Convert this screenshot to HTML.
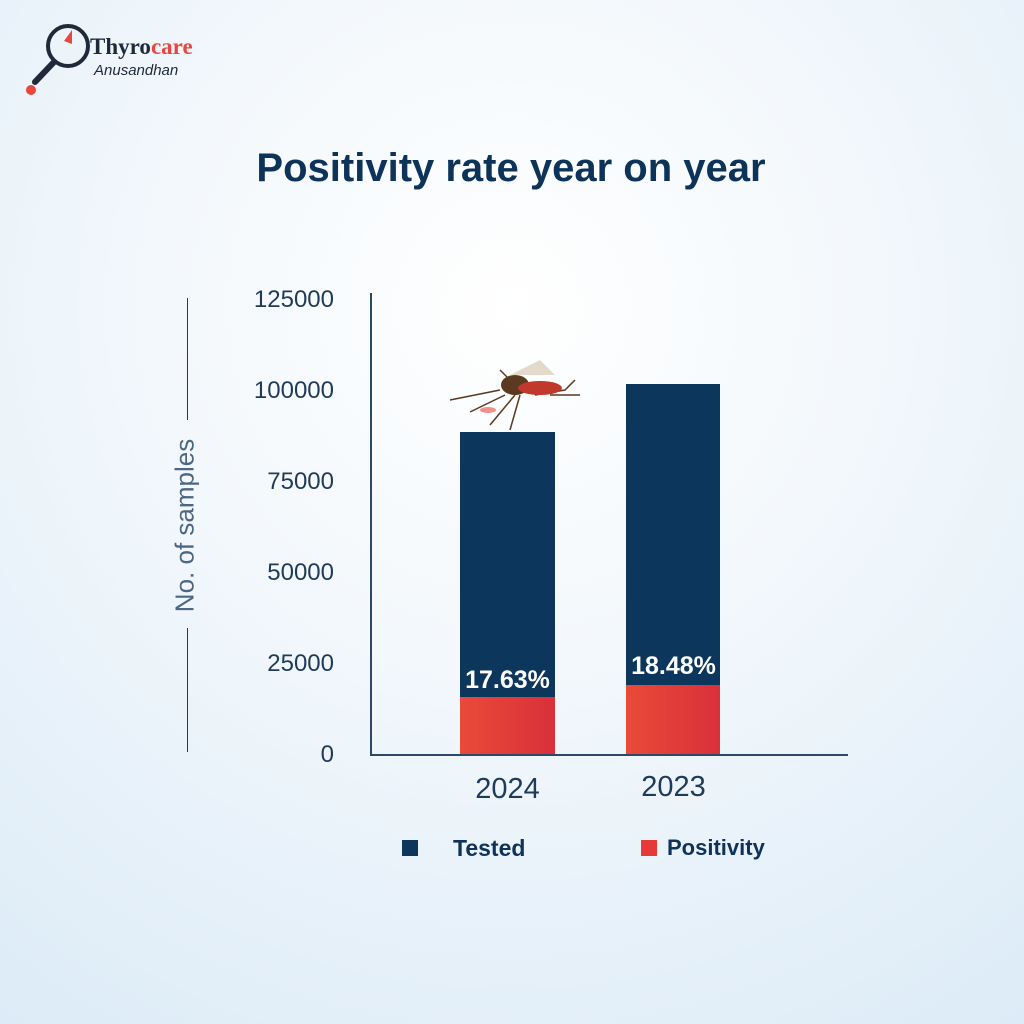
<!DOCTYPE html>
<html><head><style>
body{margin:0;width:1024px;height:1024px;position:relative;overflow:hidden;font-family:"Liberation Sans",sans-serif;
background:radial-gradient(circle at 50% 30%,#ffffff 0%,#f3f8fc 40%,#dcebf7 100%);}
.a{position:absolute}
.t{color:#0d3358}
.yl{position:absolute;right:690px;font-size:24px;color:#1f3b5a;text-align:right}
</style></head><body>
<!-- logo -->
<svg class="a" style="left:20px;top:10px" width="200" height="90">
<circle cx="48" cy="36" r="20" fill="none" stroke="#1e2a3a" stroke-width="4"/>
<line x1="34" y1="52" x2="15" y2="72" stroke="#1e2a3a" stroke-width="6" stroke-linecap="round"/>
<circle cx="11" cy="80" r="5" fill="#e8473d"/>
<path d="M52 20 L44 31 L52 34 Z" fill="#e8473d"/>
<text x="70" y="44" font-family="Liberation Serif" font-weight="bold" font-size="23" fill="#1e2a3a">Thyro<tspan fill="#e8473d">care</tspan></text>
<text x="74" y="65" font-family="Liberation Sans" font-style="italic" font-size="15" fill="#1e2a3a">Anusandhan</text>
</svg>
<div class="a t" style="left:0;width:1022px;top:146px;text-align:center;font-weight:bold;font-size:40px">Positivity rate year on year</div>
<!-- axes -->
<div class="a" style="left:370px;top:293px;width:1.5px;height:462px;background:#2b4a6a"></div>
<div class="a" style="left:370px;top:754px;width:478px;height:1.5px;background:#2b4a6a"></div>
<div class="yl" style="top:286px">125000</div>
<div class="yl" style="top:377px">100000</div>
<div class="yl" style="top:468px">75000</div>
<div class="yl" style="top:559px">50000</div>
<div class="yl" style="top:650px">25000</div>
<div class="yl" style="top:741px">0</div>
<div class="a" style="left:187px;top:298px;width:1px;height:122px;background:#1f3b5a"></div>
<div class="a" style="left:187px;top:628px;width:1px;height:124px;background:#1f3b5a"></div>
<div class="a" style="left:85px;top:510px;width:200px;text-align:center;transform:rotate(-90deg);font-size:26px;color:#4b6784">No. of samples</div>
<!-- bars -->
<div class="a" style="left:460px;top:432px;width:95px;height:265px;background:#0c365b"></div>
<div class="a" style="left:460px;top:697px;width:95px;height:57px;background:linear-gradient(90deg,#ea4a38,#d9303a)"></div>
<div class="a" style="left:626px;top:384px;width:94px;height:301px;background:#0c365b"></div>
<div class="a" style="left:626px;top:685px;width:94px;height:69px;background:linear-gradient(90deg,#ea4a38,#d9303a)"></div>
<div class="a" style="left:440px;width:135px;top:666px;text-align:center;color:#fff;font-size:25px;font-weight:bold">17.63%</div>
<div class="a" style="left:606px;width:135px;top:652px;text-align:center;color:#fff;font-size:25px;font-weight:bold">18.48%</div>
<!-- mosquito -->
<svg class="a" style="left:440px;top:350px" width="150" height="90">
<g stroke="#5a3a20" stroke-width="1.5" fill="none">
<path d="M60 40 L10 50"/><path d="M65 45 L30 62"/><path d="M75 45 L50 75"/><path d="M80 45 L70 80"/>
<path d="M95 45 L125 40 L135 30"/><path d="M110 45 L140 45"/><path d="M70 30 L60 20"/>
</g>
<ellipse cx="75" cy="35" rx="14" ry="10" fill="#5a3a20"/>
<ellipse cx="100" cy="38" rx="22" ry="7" fill="#c0392b"/>
<path d="M70 25 L100 10 L115 25 Z" fill="#d9cbb5" opacity=".7"/>
<ellipse cx="48" cy="60" rx="8" ry="3" fill="#e8473d" opacity=".6"/>
</svg>
<div class="a" style="left:440px;width:135px;top:773px;text-align:center;font-size:29px;color:#1f3b5a">2024</div>
<div class="a" style="left:606px;width:135px;top:771px;text-align:center;font-size:29px;color:#1f3b5a">2023</div>
<!-- legend -->
<div class="a" style="left:402px;top:840px;width:16px;height:16px;background:#0c365b"></div>
<div class="a t" style="left:453px;top:835px;font-size:23px;font-weight:bold">Tested</div>
<div class="a" style="left:641px;top:840px;width:16px;height:16px;background:#e43b37"></div>
<div class="a t" style="left:667px;top:835px;font-size:22px;font-weight:bold">Positivity</div>
</body></html>
